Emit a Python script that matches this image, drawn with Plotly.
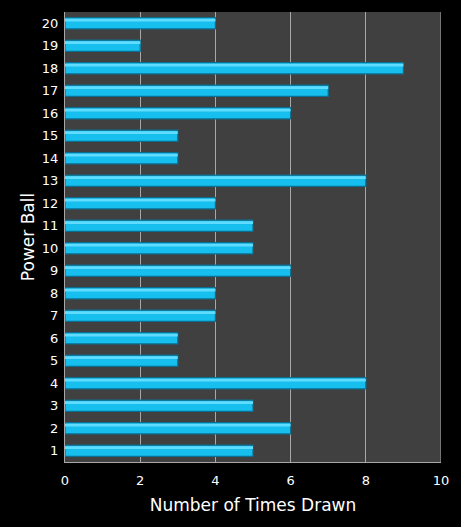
import plotly.graph_objects as go

balls = [str(i) for i in range(1, 21)]
times_drawn = [5, 6, 5, 8, 3, 3, 4, 4, 6, 5, 5, 4, 8, 3, 3, 6, 7, 9, 2, 4]
x_ticks = [0, 2, 4, 6, 8, 10]

fig = go.Figure()
# main bar
fig.add_trace(go.Bar(
    y=balls, x=times_drawn, orientation="h", width=0.5,
    marker=dict(color="#16bfee", line=dict(color="#0b6f92", width=1.2)),
    hoverinfo="skip",
))
# highlight on upper part of bar
fig.add_trace(go.Bar(
    y=balls, x=times_drawn, orientation="h", width=0.12, offset=0.08,
    marker=dict(color="#5fdcff", line=dict(width=0)),
    hoverinfo="skip",
))

fig.update_layout(
    width=461, height=527,
    paper_bgcolor="#000000", plot_bgcolor="#404040",
    margin=dict(l=65, r=20, t=12, b=65),
    barmode="overlay",
    showlegend=False,
    font=dict(family="DejaVu Sans", color="#ffffff"),
    xaxis=dict(
        range=[0, 10], tickvals=x_ticks, ticks="",
        showgrid=True, gridcolor="#a8a8a8", gridwidth=1,
        showline=True, linecolor="#a8a8a8", linewidth=1, mirror=False,
        tickfont=dict(size=13, color="#ffffff"), ticklabelstandoff=6,
        title=dict(text="Number of Times Drawn", font=dict(size=17, color="#ffffff"), standoff=12),
        zeroline=False, automargin=False,
    ),
    yaxis=dict(
        type="category", categoryorder="array", categoryarray=balls,
        ticks="", showgrid=False,
        showline=True, linecolor="#a8a8a8", linewidth=1,
        tickfont=dict(size=13, color="#ffffff"), ticklabelstandoff=3,
        title=dict(text="Power Ball", font=dict(size=17, color="#ffffff"), standoff=2),
        range=[-0.5, 19.5], automargin=False,
    ),
)
fig.add_shape(type="line", xref="x", yref="paper", x0=10, x1=10, y0=0, y1=1,
              line=dict(color="#a8a8a8", width=1), layer="below")

fig.write_html("out.html", config={"displayModeBar": False},
               post_script="document.body.style.margin='0';document.body.style.background='#000';")
